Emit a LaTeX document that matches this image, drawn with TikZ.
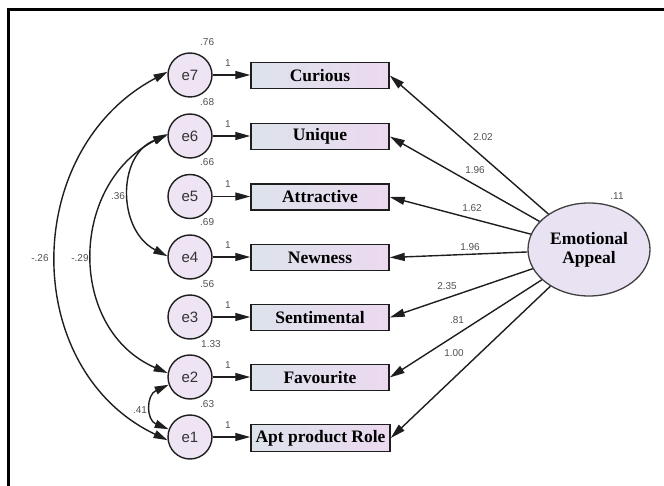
\documentclass[tikz,border=0pt]{standalone}
\usepackage{fontspec}
\setmainfont{Liberation Serif}
\newfontfamily\lsans{Liberation Sans}
\usetikzlibrary{arrows.meta,shapes.geometric}
\definecolor{circfill}{HTML}{EEE4F3}
\definecolor{boxL}{HTML}{DCE3EB}
\definecolor{boxR}{HTML}{ECD9F0}
\definecolor{ellfill}{HTML}{E9E2F2}
\definecolor{linec}{HTML}{1E1E1E}
\definecolor{lblc}{HTML}{505050}
\begin{document}
\begin{tikzpicture}[x=1pt,y=-1pt,
  errc/.style={circle,draw=linec,line width=1.4pt,fill=circfill,minimum size=44pt,inner sep=0pt,
    font=\lsans\fontsize{15}{15}\selectfont,text=black!80},
  obsbox/.style={rectangle,draw=linec,line width=1.5pt,left color=boxL,right color=boxR,
    minimum width=138pt,minimum height=26pt,inner sep=0pt,font=\bfseries\fontsize{17.5}{17.5}\selectfont},
  latent/.style={ellipse,draw=black!75,line width=1.3pt,fill=ellfill,minimum width=122pt,minimum height=93pt,
    inner sep=0pt,align=center,font=\bfseries\fontsize{17.5}{19}\selectfont},
  lbl/.style={font=\lsans\fontsize{10}{10}\selectfont,text=lblc,inner sep=0pt},
  arr/.style={draw=linec,line width=1.4pt,-{Triangle[length=15pt,width=8pt]}},
  covarr/.style={draw=linec,line width=1.4pt,{Triangle[length=14pt,width=8pt]}-{Triangle[length=14pt,width=8pt]}}
]
\useasboundingbox (0,0) rectangle (664,486);
% frame
\draw[line width=3pt] (8,486) -- (8,10) -- (664,10);

% error circles
\node[errc] (e7) at (190,75) {e7};
\node[errc] (e6) at (190,136) {e6};
\node[errc] (e5) at (190,196.5) {e5};
\node[errc] (e4) at (190,257) {e4};
\node[errc] (e3) at (190,317) {e3};
\node[errc] (e2) at (190,377) {e2};
\node[errc] (e1) at (190,437) {e1};

% observed boxes
\node[obsbox] (b7) at (320,75.5) {Curious};
\node[obsbox] (b6) at (320,136.5) {Unique};
\node[obsbox] (b5) at (320,197) {Attractive};
\node[obsbox] (b4) at (320,257.5) {Newness};
\node[obsbox] (b3) at (320,317.5) {Sentimental};
\node[obsbox] (b2) at (320,377.5) {Favourite};
\node[obsbox,minimum height=27pt,minimum width=139pt] (b1) at (320.5,438) {Apt product Role};

% latent
\node[latent] (EA) at (589,249.5) {Emotional\\Appeal};
\node[lbl] (v0) at (617,196) {.11};

% error -> box arrows with "1"
\foreach \i/\y in {7/75,6/136,5/196.5,4/257,3/317,2/377,1/437}{
  \draw[arr] (e\i) -- (b\i.west |- e\i);
  \node[lbl] (one\i) at (228,\y-12) {1};
}

% variance labels
\node[lbl,anchor=west] (v7) at (200,42) {.76};
\node[lbl,anchor=west] (v6) at (200,102) {.68};
\node[lbl,anchor=west] (v5) at (200,162) {.66};
\node[lbl,anchor=west] (v4) at (200,222) {.69};
\node[lbl,anchor=west] (v3) at (200,284) {.56};
\node[lbl,anchor=west] (v2) at (201,344) {1.33};
\node[lbl,anchor=west] (v1) at (200,404) {.63};

% loadings
\draw[arr] (EA) -- (b7.east);
\draw[arr] (EA) -- (b6.east);
\draw[arr] (EA) -- (b5.east);
\draw[arr] (EA) -- (b4.east);
\draw[arr] (EA) -- (b3.east);
\draw[arr] (EA) -- (b2.east);
\draw[arr] (EA) -- (b1.east);
\node[lbl] (l7) at (483,137) {2.02};
\node[lbl] (l6) at (475,170) {1.96};
\node[lbl] (l5) at (472,208) {1.62};
\node[lbl] (l4) at (470,247) {1.96};
\node[lbl] (l3) at (447,286) {2.35};
\node[lbl] (l2) at (457,320) {.81};
\node[lbl] (l1) at (454,353) {1.00};

% covariances
\draw[covarr] (e7.172) .. controls (20,150) and (20,370) .. (e1.188);
\draw[covarr] (e6.175) .. controls (68,185) and (68,330) .. (e2.170);
\draw[covarr] (e6.178) .. controls (117,155) and (117,230) .. (e4.178);
\draw[covarr] (e2.200) .. controls (146,395) and (146,420) .. (e1.160);
\node[lbl] (c1) at (40,258) {-.26};
\node[lbl] (c2) at (80,258) {-.29};
\node[lbl] (c3) at (118,196) {.36};
\node[lbl] (c4) at (140,410) {.41};
\end{tikzpicture}
\end{document}
